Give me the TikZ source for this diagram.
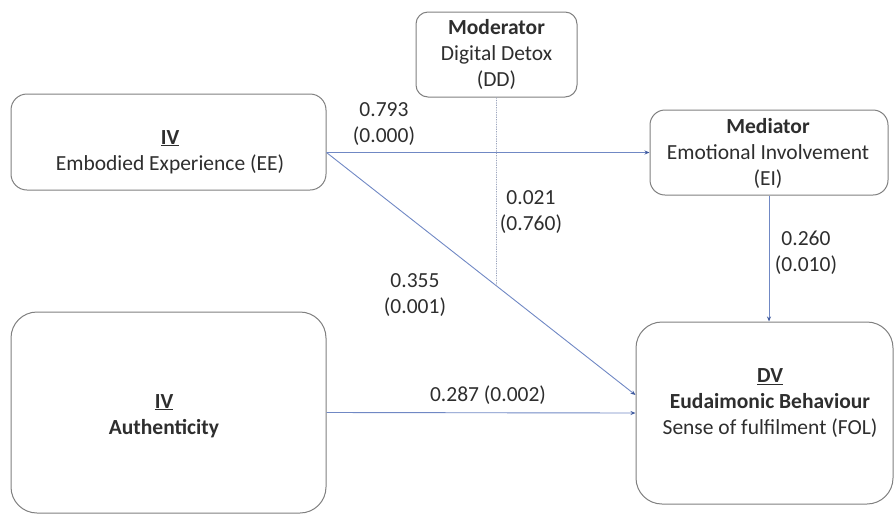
\documentclass[tikz,border=0pt]{standalone}
\usepackage{fontspec}
\setmainfont{Carlito}
\usetikzlibrary{arrows.meta}
\definecolor{boxline}{HTML}{808080}
\definecolor{txt}{HTML}{2E2E2E}
\definecolor{path}{HTML}{7088C4}
\definecolor{tipc}{HTML}{3F5A9E}
\definecolor{modline}{HTML}{9AA3BC}
\begin{document}
\begin{tikzpicture}[x=1pt,y=-1pt,
  font=\fontsize{21.5}{26}\selectfont,
  varbox/.style={draw=boxline,line width=1pt,inner sep=0pt,fill=white},
  vartext/.style={text=txt,align=center,inner sep=0pt},
  coef/.style={text=txt,align=center,inner sep=0pt},
  path arrow/.style={draw=path,line width=0.9pt,
    -{Stealth[length=5pt,width=4pt,color=tipc]}},
  mod line/.style={draw=modline,line width=0.8pt,dash pattern=on 1.2pt off 1.2pt}]
\useasboundingbox (0,0) rectangle (895,515);

% variable boxes
\node[varbox,rounded corners=12pt,minimum width=161pt,minimum height=85pt] (mod) at (496.5,54.5) {};
\node[varbox,rounded corners=16pt,minimum width=315pt,minimum height=96pt] (ee) at (168.5,142) {};
\node[varbox,rounded corners=15pt,minimum width=238pt,minimum height=85pt] (med) at (769,152.5) {};
\node[varbox,rounded corners=26pt,minimum width=257pt,minimum height=182pt] (dv) at (764.5,413) {};
\node[varbox,rounded corners=26pt,minimum width=315pt,minimum height=201pt] (auth) at (168.5,412.5) {};

% box texts
\node[vartext] (mod-t) at (496.5,54) {\textbf{Moderator}\\Digital Detox\\(DD)};
\node[vartext] (ee-t) at (170,152) {\textbf{\underline{IV}}\\Embodied Experience (EE)};
\node[vartext] (med-t) at (768,153) {\textbf{Mediator}\\Emotional Involvement\\(EI)};
\node[vartext] (dv-t) at (770,403) {\textbf{\underline{DV}}\\\textbf{Eudaimonic Behaviour}\\Sense of fulfilment (FOL)};
\node[vartext] (auth-t) at (164,416) {\textbf{\underline{IV}}\\\textbf{Authenticity}};

% paths
\coordinate (ee-out) at (ee.east |- med.west);
\coordinate (dv-in) at ([yshift=18pt]dv.west);
\draw[path arrow] (ee-out) -- (med.west);
\draw[path arrow] (ee-out) -- (dv-in);
\draw[path arrow] (auth.east) -- (dv.west);
\draw[path arrow] (med.south) -- (med.south |- dv.north);

% moderating effect onto the direct path
\coordinate (mod-low) at (mod.south |- auth.north);
\coordinate (mod-end) at (intersection of mod.south--mod-low and ee-out--dv-in);
\draw[mod line] (mod.south) -- (mod-end);

% coefficients
\node[coef] (c-ee-med) at (384,124) {0.793\\(0.000)};
\node[coef] (c-mod) at (531,212) {0.021\\(0.760)};
\node[coef] (c-ee-dv) at (415,295) {0.355\\(0.001)};
\node[coef] (c-med-dv) at (806,253) {0.260\\(0.010)};
\node[coef] (c-auth-dv) at (488,395) {0.287 (0.002)};
\end{tikzpicture}
\end{document}
